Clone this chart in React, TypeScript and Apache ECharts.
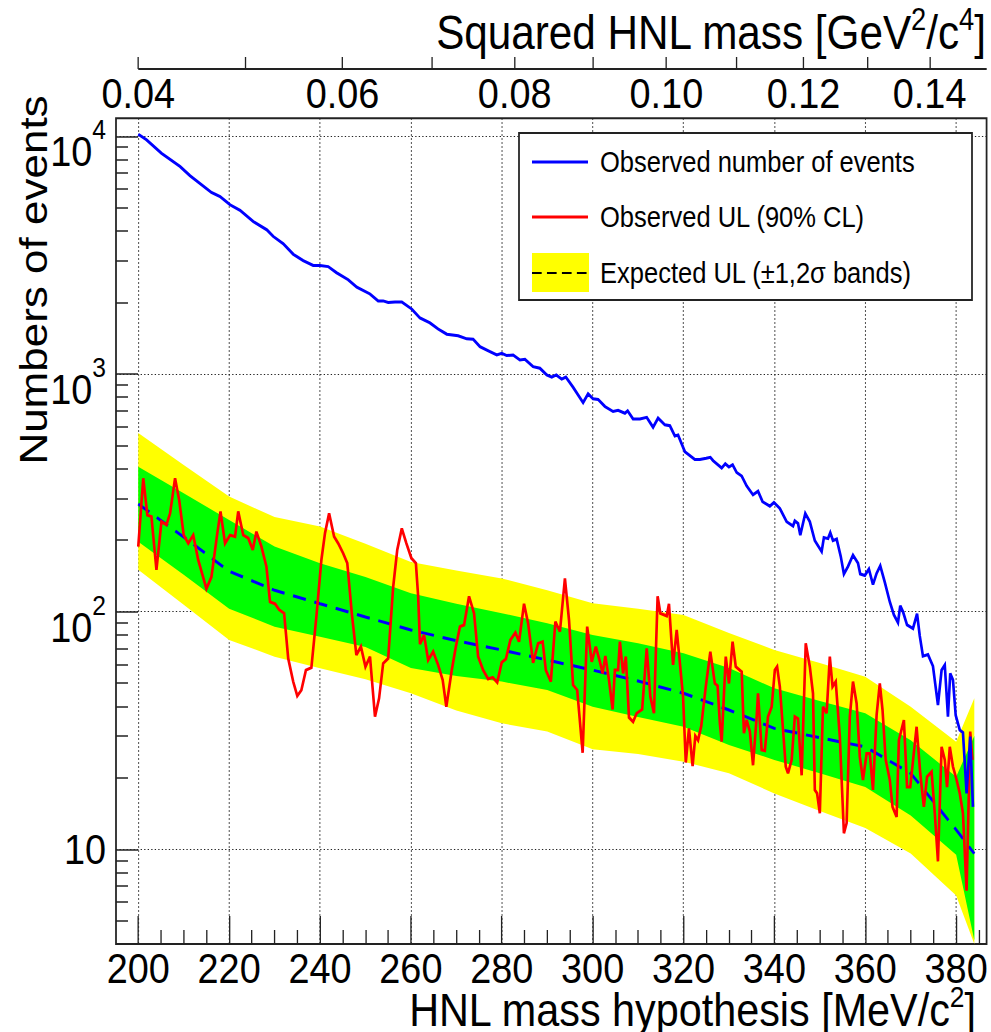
import React, { useEffect, useRef } from 'react';
import * as echarts from 'echarts';

// ---------- data ----------
const bandMass = [200, 210, 220, 230, 240, 250, 260, 270, 280, 290, 300, 310, 320, 330, 340, 350, 360, 370, 380, 384];
const exp2Up = [564, 414, 305, 250, 228, 193, 162, 149, 138, 123, 108.5, 103, 96.8, 81.4, 69, 60.8, 53.3, 39.8, 28.4, 43.2];
const exp1Up = [407, 315, 243, 188, 160, 140, 119.5, 108, 98.5, 89.4, 79.8, 73.6, 66.8, 58, 47.6, 42.1, 37.4, 28.8, 20.2, 30];
const expMedian = [284, 206, 148, 123, 108, 95, 83.8, 75.5, 69, 62.6, 56.8, 51.1, 45.4, 38.6, 32.3, 29.5, 27.0, 20.9, 12.1, 9.6];
const exp1Dn = [197, 143, 103, 86.5, 78.5, 71, 58, 53.6, 50.8, 46.8, 39.8, 36.1, 32.8, 27.5, 23.8, 20.9, 18.3, 13.9, 9.5, 4.15];
const exp2Dn = [150, 107, 76, 64.7, 57.8, 52, 45.4, 38.4, 33.9, 31.3, 26.4, 25.2, 23.4, 20.9, 17.2, 14.5, 12.3, 9.6, 6.4, 4.0];

const observedEvents: [number, number][] = [
  [200, 10200], [201.8, 9660], [205.1, 8490], [209.2, 7460], [211.4, 6820], [216.1, 5800], [218, 5580], [220.2, 5150],
  [222.4, 4880], [225.3, 4380], [228.3, 4040], [229.7, 3790], [231.9, 3530], [234.1, 3190], [236.3, 3000], [238.5, 2860],
  [240, 2860], [241.8, 2830], [243.6, 2670], [246.2, 2490], [248.1, 2320], [251, 2170], [252.8, 2030], [253.9, 2030],
  [255, 2000], [256.5, 2010], [258, 2010], [260.2, 1875], [262, 1720], [264.2, 1640], [266, 1545], [267.9, 1470],
  [270.4, 1447], [272.3, 1405], [273.7, 1400], [275.2, 1303], [277.4, 1241], [278.9, 1202], [280, 1222], [281.1, 1195],
  [282.5, 1202], [284, 1146], [285.1, 1152], [286.9, 1074], [288.4, 1057], [289.9, 991], [291, 970], [292, 991],
  [293.2, 951], [294.1, 970], [295.7, 879], [297.9, 758], [299, 825], [300.1, 786], [301.2, 781], [302.7, 730],
  [304.5, 695], [305.6, 703], [307.1, 684], [307.7, 700], [308.9, 647], [310.4, 647], [311.9, 657], [313.3, 597],
  [314.4, 652], [315.9, 611], [317, 606], [318.1, 548], [318.8, 553], [320.3, 471], [322.5, 437], [323.6, 437],
  [325, 442], [325.9, 446], [326.5, 432], [328.4, 402], [329.2, 419], [330, 406], [330.8, 415], [331.7, 385],
  [332.8, 372], [333.9, 338], [335.3, 310], [336.4, 321], [337.4, 290], [339, 278], [339.9, 288], [341.2, 272],
  [342.7, 239], [344.1, 229], [344.5, 241], [345.2, 235], [345.7, 210], [346.8, 259], [347.8, 239], [348.9, 199],
  [350.4, 179], [350.9, 205], [351.8, 203], [352.3, 215], [352.9, 199], [353.7, 202], [354.6, 171], [355.3, 144],
  [356.2, 155], [357.3, 173], [358.4, 160], [358.9, 144], [359.9, 142], [360.8, 151], [361.7, 130], [362.5, 145],
  [363.3, 156], [364.3, 133], [365.4, 110], [366.3, 97], [367.2, 90], [367.7, 106], [368.3, 100], [369.2, 88],
  [370.5, 85], [371.4, 98], [372, 79], [372.7, 65], [373.8, 66], [374.9, 59], [376, 40.5], [376.8, 56.8],
  [377.5, 59.7], [378.2, 36.2], [378.7, 55], [379.3, 51.6], [379.9, 36.7], [380.8, 31.8], [381.5, 31], [382.3, 17.2],
  [383.1, 29.8], [383.7, 15.1],
];

const observedUL: [number, number][] = [
  [200.0, 188], [201.1, 364], [202.0, 255], [202.9, 251], [204.0, 150], [205.1, 239], [206.2, 232], [207.0, 259],
  [208.1, 364], [209.0, 295], [210.0, 210], [211.0, 194], [212.1, 210], [213.2, 165], [215.0, 125], [216.1, 140],
  [217.4, 214], [218.1, 264], [219.1, 194], [220.2, 210], [221.3, 207], [222.0, 264], [223.1, 210], [224.2, 204],
  [225.2, 182], [226.0, 217], [227.1, 188], [228.2, 155], [229.0, 110], [230.1, 108], [231.0, 102], [232.1, 98.4],
  [233.0, 63.6], [234.1, 50.8], [235.0, 44.2], [235.9, 46.8], [236.9, 56.8], [238.1, 58.1], [239.2, 95.3], [240.3, 165],
  [241.1, 214], [242.0, 259], [243.1, 207], [244.0, 194], [245.1, 176], [246.0, 160], [247.0, 98.4], [248.0, 65.7],
  [249.0, 71.3], [250.0, 58.7], [251.0, 64.7], [252.1, 36.2], [253.0, 43.2], [253.9, 60.6], [255.0, 63.6], [256.1, 127],
  [257.0, 182], [258.0, 224], [259.0, 194], [260.1, 168], [261.1, 160], [261.6, 116], [262.0, 73], [262.9, 79.8],
  [263.8, 62.6], [264.9, 67.9], [266.0, 59.7], [267.0, 51.6], [267.8, 39.8], [269.0, 56.8], [269.9, 71.3], [270.8, 86.5],
  [271.7, 87.9], [272.8, 116], [273.9, 98.4], [274.8, 64.7], [275.9, 56.8], [277.0, 52.1], [278.0, 52.9], [279.0, 50.4],
  [280.0, 61.2], [280.9, 63.2], [281.9, 76.0], [283.0, 81.6], [283.8, 74.8], [284.9, 108], [285.8, 89.3], [286.9, 61.0],
  [288.0, 73.6], [289.0, 74.8], [289.7, 56.8], [290.8, 50.8], [291.8, 90.8], [292.8, 82.4], [293.9, 138], [294.8, 92.3],
  [295.7, 49.2], [296.6, 46.8], [297.8, 25.5], [298.8, 86.5], [299.8, 61.6], [300.7, 71.3], [301.6, 61.6], [302.2, 55.0],
  [302.8, 65.1], [303.6, 51.6], [304.4, 38.8], [304.9, 56.8], [305.6, 56.8], [306.0, 74.8], [306.7, 55.0], [307.3, 64.7],
  [308.0, 35.9], [308.9, 34.4], [309.7, 37.4], [310.9, 38.8], [311.9, 70.1], [312.7, 43.9], [313.5, 37.4], [314.3, 116],
  [314.9, 98.4], [316.3, 95.9], [316.8, 108], [317.7, 59.7], [318.5, 83.8], [319.0, 66.8], [319.9, 43.9], [320.5, 23.2],
  [321.2, 32.3], [322.0, 22.4], [322.6, 30.0], [323.2, 28.8], [323.9, 33.0], [324.9, 48.4], [325.9, 67.9], [326.9, 49.9],
  [327.5, 48.8], [328.0, 33.9], [328.4, 28.4], [329.3, 64.7], [330.0, 49.9], [330.8, 74.8], [331.5, 58.7], [332.8, 55.9],
  [333.3, 30.8], [333.9, 35.0], [334.6, 31.3], [335.3, 22.6], [336.1, 36.2], [336.4, 45.3], [337.2, 26.2], [337.9, 26.0],
  [338.6, 36.2], [339.4, 39.8], [340.1, 56.8], [340.6, 58.7], [341.2, 48.4], [342.5, 22.3], [343.0, 20.9], [343.8, 23.8],
  [344.5, 36.2], [345.2, 35.5], [346.0, 20.5], [346.9, 73.6], [347.8, 58.7], [348.5, 45.3], [348.9, 17.8], [349.4, 17.2],
  [350.0, 14.2], [350.7, 39.8], [351.5, 37.4], [352.2, 64.7], [352.8, 48.4], [353.5, 50.8], [354.4, 29.8], [355.3, 11.7],
  [355.9, 12.9], [356.6, 36.2], [357.3, 50.8], [358.1, 41.1], [358.8, 24.5], [359.5, 19.6], [360.3, 25.3], [361.0, 25.3],
  [361.7, 17.8], [362.5, 36.8], [363.2, 49.9], [363.8, 38.6], [364.5, 23.8], [365.4, 19.6], [366.0, 15.1], [366.9, 13.7],
  [367.4, 28.8], [368.5, 35.0], [369.2, 18.3], [369.9, 18.3], [371.3, 32.8], [372.1, 20.9], [372.9, 15.1], [373.6, 20.2],
  [374.6, 21.2], [375.3, 14.2], [376.0, 8.9], [376.8, 27.0], [377.5, 23.8], [378.0, 18.3], [378.6, 27.0], [379.3, 22.3],
  [380.1, 19.6], [380.8, 17.2], [381.5, 14.2], [382.3, 6.7], [383.1, 31.3], [383.6, 23.8],
];

const bottomTicks = [200, 220, 240, 260, 280, 300, 320, 340, 360, 380];
const bottomMinorTicks = [205, 210, 215, 225, 230, 235, 245, 250, 255, 265, 270, 275, 285, 290, 295, 305, 310, 315, 325, 330, 335, 345, 350, 355, 365, 370, 375, 385];
const topTicksQ = [0.04, 0.05, 0.06, 0.07, 0.08, 0.09, 0.10, 0.11, 0.12, 0.13, 0.14];
const topLabelsQ = [0.04, 0.06, 0.08, 0.10, 0.12, 0.14];
const yMajorTicks = [10, 100, 1000, 10000];
const yMinorTicks = [5, 6, 7, 8, 9, 20, 30, 40, 50, 60, 70, 80, 90, 200, 300, 400, 500, 600, 700, 800, 900, 2000, 3000, 4000, 5000, 6000, 7000, 8000, 9000];

// ---------- layout (reference pixels; horizontal text is condensed in the reference) ----------
const SX = 0.88;
const REF_W = 991;
const REF_H = 1032;
const CW = REF_W / SX;
const X = (px: number) => px / SX;
const FONT = '"Liberation Sans", Arial, Helvetica, sans-serif';

const G_LEFT = 116, G_RIGHT = 986.7, G_TOP = 118.3, G_BOTTOM = 944;
const TOP_AXIS_Y = 69;
const XMIN = 195.1, XMAX = 386.7, YMIN = 4.0, YMAX = 11900;

function buildOption() {
  const plotW = X(G_RIGHT) - X(G_LEFT);
  const topAxisLeft = X(G_LEFT) + ((200 - XMIN) / (XMAX - XMIN)) * plotW;
  const qToMass = (q: number) => Math.sqrt(q) * 1000;
  const tickLine = { color: '#222', width: 1.5 };
  const dotted = { type: [1.5, 2.5] as number[], color: '#222', width: 1.2 };

  const bandRenderer = (upper: number[], lower: number[], color: string) => (params: any, api: any) => {
    const pts: number[][] = [];
    for (let i = 0; i < bandMass.length; i++) pts.push(api.coord([bandMass[i], upper[i]]));
    for (let i = bandMass.length - 1; i >= 0; i--) pts.push(api.coord([bandMass[i], lower[i]]));
    return { type: 'polygon', shape: { points: pts }, style: { fill: color, stroke: null }, silent: true };
  };

  const legendRows = [162, 217, 273];
  const titleRich = (size: number, supSize: number) => ({
    a: { fontSize: size, fontFamily: FONT, fill: '#000', lineHeight: 44 },
    s: { fontSize: supSize, fontFamily: FONT, fill: '#000', verticalAlign: 'top', height: 16 },
  });

  return {
    animation: false,
    backgroundColor: '#ffffff',
    grid: [
      {
        left: X(G_LEFT), right: CW - X(G_RIGHT), top: G_TOP, bottom: REF_H - G_BOTTOM,
        show: true, borderColor: '#222', borderWidth: 2, backgroundColor: 'transparent',
      },
    ],
    xAxis: [
      {
        gridIndex: 0, type: 'value', position: 'bottom', min: XMIN, max: XMAX,
        axisLine: { show: false },
        axisTick: { show: true, inside: true, length: 28, customValues: bottomTicks, lineStyle: tickLine },
        axisLabel: {
          customValues: bottomTicks, margin: 3, fontSize: 43, color: '#000', fontFamily: FONT,
          formatter: (v: number) => String(Math.round(v)),
        },
        splitLine: { show: true, lineStyle: dotted },
      },
      {
        gridIndex: 0, type: 'value', position: 'bottom', min: XMIN, max: XMAX,
        axisLine: { show: false },
        axisTick: { show: true, inside: true, length: 14, customValues: bottomMinorTicks, lineStyle: tickLine },
        axisLabel: { show: false },
        splitLine: { show: false },
      },
      {
        // secondary axis: squared mass, placed above the frame
        gridIndex: 0, type: 'value', position: 'top', offset: G_TOP - TOP_AXIS_Y, min: XMIN, max: XMAX,
        axisLine: { show: false },
        axisTick: { show: true, inside: false, length: 12, customValues: topTicksQ.map(qToMass), lineStyle: tickLine },
        axisLabel: {
          inside: true, customValues: topLabelsQ.map(qToMass), margin: 3, fontSize: 43, color: '#000', fontFamily: FONT,
          formatter: (v: number) => ((v * v) / 1e6).toFixed(2),
        },
        splitLine: { show: false },
      },
    ],
    yAxis: [
      {
        gridIndex: 0, type: 'log', logBase: 10, min: YMIN, max: YMAX,
        axisLine: { show: false },
        axisTick: { show: true, inside: true, length: X(22), customValues: yMajorTicks, lineStyle: tickLine },
        axisLabel: {
          customValues: yMajorTicks, margin: X(10), color: '#000', fontFamily: FONT,
          formatter: (v: number) => {
            const e = Math.round(Math.log10(v));
            return e === 1 ? '{c|10}' : `{b|10}{s|${e}}`;
          },
          rich: {
            b: { fontSize: 43, fontFamily: FONT, color: '#000', lineHeight: 73, verticalAlign: 'bottom' },
            s: { fontSize: 28, fontFamily: FONT, color: '#000', verticalAlign: 'top', padding: [16, 0, 0, 0] },
            c: { fontSize: 43, fontFamily: FONT, color: '#000' },
          },
        },
        splitLine: { show: true, lineStyle: dotted },
      },
      {
        gridIndex: 0, type: 'log', logBase: 10, min: YMIN, max: YMAX, position: 'left',
        axisLine: { show: false },
        axisTick: { show: true, inside: true, length: X(12), customValues: yMinorTicks, lineStyle: tickLine },
        axisLabel: { show: false },
        splitLine: { show: false },
      },
    ],
    series: [
      {
        type: 'custom', name: 'band2', xAxisIndex: 0, yAxisIndex: 0, z: 1, clip: true, silent: true,
        data: [[bandMass[0], exp2Up[0]]],
        renderItem: bandRenderer(exp2Up, exp2Dn, '#ffff00'),
      },
      {
        type: 'custom', name: 'band1', xAxisIndex: 0, yAxisIndex: 0, z: 2, clip: true, silent: true,
        data: [[bandMass[0], exp1Up[0]]],
        renderItem: bandRenderer(exp1Up, exp1Dn, '#00ff00'),
      },
      {
        type: 'line', name: 'Expected UL', xAxisIndex: 0, yAxisIndex: 0, z: 3, symbol: 'none', silent: true,
        data: bandMass.map((m, i) => [m, expMedian[i]]),
        lineStyle: { color: '#0000ff', width: 3, type: [15, 10] },
      },
      {
        type: 'line', name: 'Observed UL (90% CL)', xAxisIndex: 0, yAxisIndex: 0, z: 4, symbol: 'none', silent: true,
        data: observedUL,
        lineStyle: { color: '#ff0000', width: 3, join: 'miter', miterLimit: 3 },
      },
      {
        type: 'line', name: 'Observed number of events', xAxisIndex: 0, yAxisIndex: 0, z: 5, symbol: 'none', silent: true,
        data: observedEvents,
        lineStyle: { color: '#0000ff', width: 3, join: 'miter', miterLimit: 3 },
      },
    ],
    graphic: [
      // top axis line (starts at 0.04 GeV^2)
      {
        type: 'line', z: 50,
        shape: { x1: topAxisLeft, y1: TOP_AXIS_Y, x2: X(G_RIGHT), y2: TOP_AXIS_Y },
        style: { stroke: '#222', lineWidth: 2 },
      },
      // axis titles
      {
        type: 'text', x: X(986), y: 33, z: 50,
        style: {
          text: '{a|Squared HNL mass [GeV}{s|2}{a|/c}{s|4}{a|]}',
          align: 'right', textAlign: 'right', verticalAlign: 'middle', textVerticalAlign: 'middle', fill: '#000',
          rich: titleRich(48, 31),
        },
      },
      {
        type: 'text', x: X(976), y: 1010, z: 50,
        style: {
          text: '{a|HNL mass hypothesis [MeV/c}{s|2}{a|]}',
          align: 'right', textAlign: 'right', verticalAlign: 'middle', textVerticalAlign: 'middle', fill: '#000',
          rich: titleRich(47, 30),
        },
      },
      {
        type: 'text', x: X(33), y: 280, rotation: Math.PI / 2, z: 50,
        style: {
          text: 'Numbers of events', fontSize: 44, fontFamily: FONT, fill: '#000',
          align: 'center', textAlign: 'center', verticalAlign: 'middle', textVerticalAlign: 'middle',
        },
      },
      // legend
      {
        type: 'rect', z: 60,
        shape: { x: X(519), y: 133, width: X(972) - X(519), height: 167 },
        style: { fill: '#ffffff', stroke: '#222', lineWidth: 2 },
      },
      {
        type: 'line', z: 61,
        shape: { x1: X(532), y1: legendRows[0], x2: X(588), y2: legendRows[0] },
        style: { stroke: '#0000ff', lineWidth: 3 },
      },
      {
        type: 'line', z: 61,
        shape: { x1: X(532), y1: legendRows[1], x2: X(588), y2: legendRows[1] },
        style: { stroke: '#ff0000', lineWidth: 3 },
      },
      {
        type: 'rect', z: 61,
        shape: { x: X(532), y: 253, width: X(589) - X(532), height: 39 },
        style: { fill: '#ffff00' },
      },
      {
        type: 'line', z: 62,
        shape: { x1: X(532), y1: legendRows[2], x2: X(589), y2: legendRows[2] },
        style: { stroke: '#000', lineWidth: 2, lineDash: [11, 6] },
      },
      ...['Observed number of events', 'Observed UL (90% CL)', 'Expected UL (\u00b11,2\u03c3 bands)'].map((t, i) => ({
        type: 'text', x: X(600), y: legendRows[i], z: 62,
        style: {
          text: t, fontSize: 29, fontFamily: FONT, fill: '#000',
          align: 'left', textAlign: 'left', verticalAlign: 'middle', textVerticalAlign: 'middle',
        },
      })),
    ],
  };
}

export default function App() {
  const ref = useRef<HTMLDivElement>(null);
  useEffect(() => {
    if (!ref.current) return;
    const chart = echarts.init(ref.current, null, { renderer: 'svg' });
    chart.setOption(buildOption() as any);
    return () => chart.dispose();
  }, []);
  return (
    <div
      style={{
        position: 'fixed', left: 0, top: 0, width: REF_W, height: REF_H,
        overflow: 'hidden', background: '#ffffff',
      }}
    >
      <div
        ref={ref}
        style={{ width: CW, height: REF_H, transform: `scaleX(${SX})`, transformOrigin: '0 0' }}
      />
    </div>
  );
}
